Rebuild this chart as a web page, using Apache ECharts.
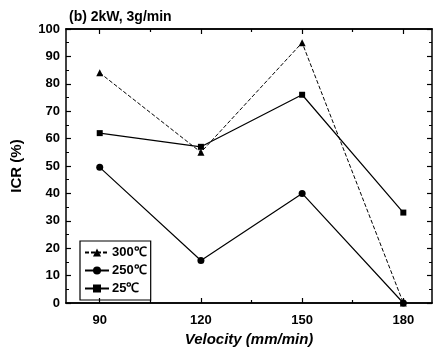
<!DOCTYPE html>
<html>
<head>
<meta charset="utf-8">
<script src="https://cdn.jsdelivr.net/npm/echarts@6/dist/echarts.min.js"></script>
<style>
  html, body { margin: 0; padding: 0; background: #fff; }
  #chart { width: 433px; height: 350px; }
</style>
</head>
<body>
<div id="chart"></div>
<script>
// velocity (mm/min)
const velocities = [90, 120, 150, 180];
const majorTicks = [90, 120, 150, 180];
const minorTicks = [105, 135, 165];

// ICR (%) per substrate temperature
const icr300 = [84, 55, 95, 0];
const icr250 = [49.5, 15.5, 40, 0];
const icr25 = [62, 57, 76, 33];

const font = "Arial, 'Liberation Sans', sans-serif";

const chart = echarts.init(document.getElementById("chart"));

const toPairs = (ys) => velocities.map((v, i) => [v, ys[i]]);

// helper to build a frame x axis (bottom/top, major/minor ticks)
function frameX(position, ticks, len, showLabel) {
  return {
    type: "value",
    position: position,
    min: 80,
    max: 188.5,
    axisLine: { show: true, lineStyle: { color: "#000", width: 1.5 } },
    axisTick: {
      show: true,
      inside: true,
      length: len,
      customValues: ticks,
      lineStyle: { color: "#000", width: 1.2 },
    },
    axisLabel: showLabel
      ? {
          show: true,
          customValues: majorTicks,
          color: "#000",
          fontFamily: font,
          fontWeight: "bold",
          fontSize: 13,
          margin: 11,
        }
      : { show: false },
    splitLine: { show: false },
  };
}

function frameY(position, showLabel) {
  return {
    type: "value",
    position: position,
    min: 0,
    max: 100,
    interval: 10,
    axisLine: { show: true, lineStyle: { color: "#000", width: 1.5 } },
    axisTick: { show: true, inside: true, length: 5, lineStyle: { color: "#000", width: 1.2 } },
    minorTick: { show: true, splitNumber: 2, length: 3, lineStyle: { color: "#000" } },
    axisLabel: {
      show: showLabel,
      color: "#000",
      fontFamily: font,
      fontWeight: "bold",
      fontSize: 13,
      margin: 6,
    },
    splitLine: { show: false },
  };
}

const bottomMain = frameX("bottom", majorTicks, 5, true);
bottomMain.name = "Velocity (mm/min)";
bottomMain.nameLocation = "middle";
bottomMain.nameGap = 28;
bottomMain.nameTextStyle = {
  color: "#000",
  fontFamily: font,
  fontWeight: "bold",
  fontStyle: "italic",
  fontSize: 15,
};

const leftY = frameY("left", true);
leftY.name = "ICR (%)";
leftY.nameLocation = "middle";
leftY.nameGap = 42;
leftY.nameTextStyle = {
  color: "#000",
  fontFamily: font,
  fontWeight: "bold",
  fontSize: 15,
};

const option = {
  animation: false,
  backgroundColor: "#fff",
  title: {
    text: "(b) 2kW, 3g/min",
    left: 64,
    top: 5,
    textStyle: { color: "#000", fontFamily: font, fontWeight: "bold", fontSize: 14 },
  },
  grid: { left: 66, right: 1, top: 29, bottom: 47, containLabel: false, outerBoundsMode: "none" },
  xAxis: [
    bottomMain,
    frameX("bottom", minorTicks, 3, false),
    frameX("top", majorTicks, 5, false),
    frameX("top", minorTicks, 3, false),
  ],
  yAxis: [leftY, frameY("right", false)],
  legend: {
    orient: "vertical",
    left: 80,
    top: 241,
    width: 74,
    padding: [5, 4, 5, 4],
    itemGap: 5,
    itemWidth: 24,
    itemHeight: 10,
    borderColor: "#000",
    borderWidth: 1.2,
    borderRadius: 0,
    textStyle: { color: "#000", fontFamily: font, fontWeight: "bold", fontSize: 13, padding: [0, 0, 0, -2] },
    data: ["300℃", "250℃", "25℃"],
  },
  series: [
    {
      name: "300℃",
      type: "line",
      data: toPairs(icr300),
      symbol: "triangle",
      symbolSize: 7,
      itemStyle: { color: "#000" },
      lineStyle: { color: "#000", width: 1, type: [4, 2] },
    },
    {
      name: "250℃",
      type: "line",
      data: toPairs(icr250),
      symbol: "circle",
      symbolSize: 7,
      itemStyle: { color: "#000" },
      lineStyle: { color: "#000", width: 1.2 },
    },
    {
      name: "25℃",
      type: "line",
      data: toPairs(icr25),
      symbol: "rect",
      symbolSize: 6,
      itemStyle: { color: "#000" },
      lineStyle: { color: "#000", width: 1.2 },
    },
  ],
};

chart.setOption(option);
</script>
</body>
</html>
